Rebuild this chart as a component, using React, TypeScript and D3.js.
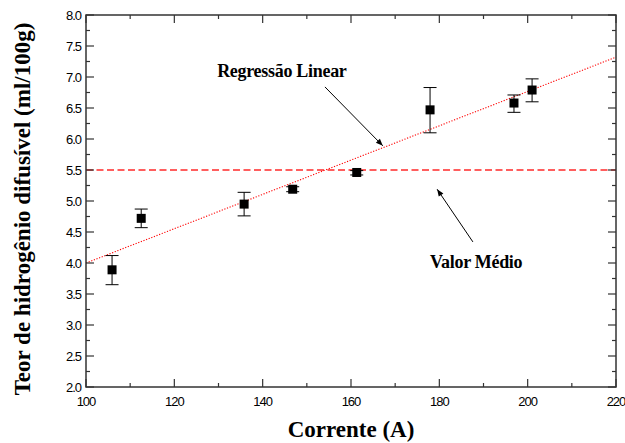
import React from "react";
import * as d3 from "d3";

const currents = [105.9, 112.5, 135.8, 146.8, 161.3, 177.9, 196.9, 201.0];
const hydrogen = [3.89, 4.72, 4.95, 5.19, 5.46, 6.47, 6.58, 6.79];
const errLow = [3.65, 4.57, 4.76, 5.15, 5.42, 6.10, 6.43, 6.60];
const errHigh = [4.12, 4.87, 5.14, 5.23, 5.49, 6.83, 6.71, 6.97];
const meanValue = 5.5;
const regressionX = [100, 220];
const regressionY = [4.0, 7.32];
const xMajorTicks = [100, 120, 140, 160, 180, 200, 220];
const xTickLabels = ["100", "120", "140", "160", "180", "200", "220"];
const yMajorTicks = [2.0, 2.5, 3.0, 3.5, 4.0, 4.5, 5.0, 5.5, 6.0, 6.5, 7.0, 7.5, 8.0];
const yTickLabels = ["2.0", "2.5", "3.0", "3.5", "4.0", "4.5", "5.0", "5.5", "6.0", "6.5", "7.0", "7.5", "8.0"];
const xTitle = "Corrente (A)";
const yTitle = "Teor de hidrogênio difusível (ml/100g)";
const regLabel = "Regressão Linear";
const meanLabel = "Valor Médio";

export default function App() {
  const W = 625, H = 443;
  const left = 86, right = 616, top = 15, bottom = 387;
  const x = d3.scaleLinear().domain([100, 220]).range([left, right]);
  const y = d3.scaleLinear().domain([2, 8]).range([bottom, top]);
  const xMinor = xMajorTicks.slice(0, -1).map((v, i) => (v + xMajorTicks[i + 1]) / 2);
  const yMinor = yMajorTicks.slice(0, -1).map((v, i) => (v + yMajorTicks[i + 1]) / 2);
  const axisColor = "#333";
  const serif = "Liberation Serif, Times New Roman, Times, serif";
  const sans = "Liberation Sans, Arial, sans-serif";
  const line = d3.line<number>().x((d, i) => x(regressionX[i])).y((d) => y(d));
  const maj = 8, mn = 4;
  const cap = 6.5, sq = 4.5;

  const regText = { x: 129.7, y: 7.0 };
  const regArrow = { x1: 154.1, y1: 6.84, x2: 167.2, y2: 5.89 };
  const meanText = { x: 177.9, y: 3.92 };
  const meanArrow = { x1: 187.6, y1: 4.34, x2: 179.5, y2: 5.19 };

  return (
    <svg width={W} height={H} style={{ position: "absolute", left: 0, top: 0, background: "#fff" }}>
      <defs>
        <marker id="ah" viewBox="0 0 10 10" refX="10" refY="5" markerWidth="9" markerHeight="7" orient="auto" markerUnits="userSpaceOnUse">
          <path d="M0,1 L10,5 L0,9 Z" fill="#000" />
        </marker>
      </defs>
      <line x1={left} x2={right} y1={y(meanValue)} y2={y(meanValue)} stroke="#ff2a2a" strokeWidth={1.6} strokeDasharray="7 3.5" />
      <path d={line(regressionY) || ""} fill="none" stroke="#ff0000" strokeWidth={1.1} strokeDasharray="1.2 1.6" />
      {currents.map((c, i) => (
        <g key={"e" + i} stroke="#000" strokeWidth={1}>
          <line x1={x(c)} x2={x(c)} y1={y(errLow[i])} y2={y(errHigh[i])} />
          <line x1={x(c) - cap} x2={x(c) + cap} y1={y(errLow[i])} y2={y(errLow[i])} />
          <line x1={x(c) - cap} x2={x(c) + cap} y1={y(errHigh[i])} y2={y(errHigh[i])} />
        </g>
      ))}
      {currents.map((c, i) => (
        <rect key={"p" + i} x={x(c) - sq} y={y(hydrogen[i]) - sq} width={sq * 2} height={sq * 2} fill="#000" />
      ))}
      <rect x={left} y={top} width={right - left} height={bottom - top} fill="none" stroke={axisColor} strokeWidth={1.5} />
      {xMajorTicks.map((v) => (
        <g key={"xm" + v} stroke={axisColor} strokeWidth={1.2}>
          <line x1={x(v)} x2={x(v)} y1={bottom} y2={bottom - maj} />
          <line x1={x(v)} x2={x(v)} y1={top} y2={top + maj} />
        </g>
      ))}
      {xMinor.map((v) => (
        <g key={"xn" + v} stroke={axisColor} strokeWidth={1.2}>
          <line x1={x(v)} x2={x(v)} y1={bottom} y2={bottom - mn} />
          <line x1={x(v)} x2={x(v)} y1={top} y2={top + mn} />
        </g>
      ))}
      {yMajorTicks.map((v) => (
        <g key={"ym" + v} stroke={axisColor} strokeWidth={1.2}>
          <line x1={left} x2={left + maj} y1={y(v)} y2={y(v)} />
          <line x1={right} x2={right - maj} y1={y(v)} y2={y(v)} />
        </g>
      ))}
      {yMinor.map((v) => (
        <g key={"yn" + v} stroke={axisColor} strokeWidth={1.2}>
          <line x1={left} x2={left + mn} y1={y(v)} y2={y(v)} />
          <line x1={right} x2={right - mn} y1={y(v)} y2={y(v)} />
        </g>
      ))}
      {xMajorTicks.map((v, i) => (
        <text key={"xl" + v} x={x(v)} y={406} textAnchor="middle" style={{ fontFamily: sans, fontSize: 13, letterSpacing: -1 }} fill="#000">
          {xTickLabels[i]}
        </text>
      ))}
      {yMajorTicks.map((v, i) => (
        <text key={"yl" + v} x={81} y={y(v)} dy="0.36em" textAnchor="end" style={{ fontFamily: sans, fontSize: 13, letterSpacing: -1 }} fill="#000">
          {yTickLabels[i]}
        </text>
      ))}
      <text x={(left + right) / 2} y={437} textAnchor="middle" style={{ fontFamily: serif, fontWeight: "bold", fontSize: 23 }} fill="#000">
        {xTitle}
      </text>
      <text transform={`translate(30,209) rotate(-90)`} textAnchor="middle" style={{ fontFamily: serif, fontWeight: "bold", fontSize: 23 }} fill="#000">
        {yTitle}
      </text>
      <text x={x(regText.x)} y={y(regText.y)} style={{ fontFamily: serif, fontWeight: "bold", fontSize: 18, letterSpacing: -0.3 }} fill="#000">
        {regLabel}
      </text>
      <line x1={x(regArrow.x1)} y1={y(regArrow.y1)} x2={x(regArrow.x2)} y2={y(regArrow.y2)} stroke="#000" strokeWidth={1} markerEnd="url(#ah)" />
      <text x={x(meanText.x)} y={y(meanText.y)} style={{ fontFamily: serif, fontWeight: "bold", fontSize: 18, letterSpacing: -0.3 }} fill="#000">
        {meanLabel}
      </text>
      <line x1={x(meanArrow.x1)} y1={y(meanArrow.y1)} x2={x(meanArrow.x2)} y2={y(meanArrow.y2)} stroke="#000" strokeWidth={1} markerEnd="url(#ah)" />
    </svg>
  );
}
